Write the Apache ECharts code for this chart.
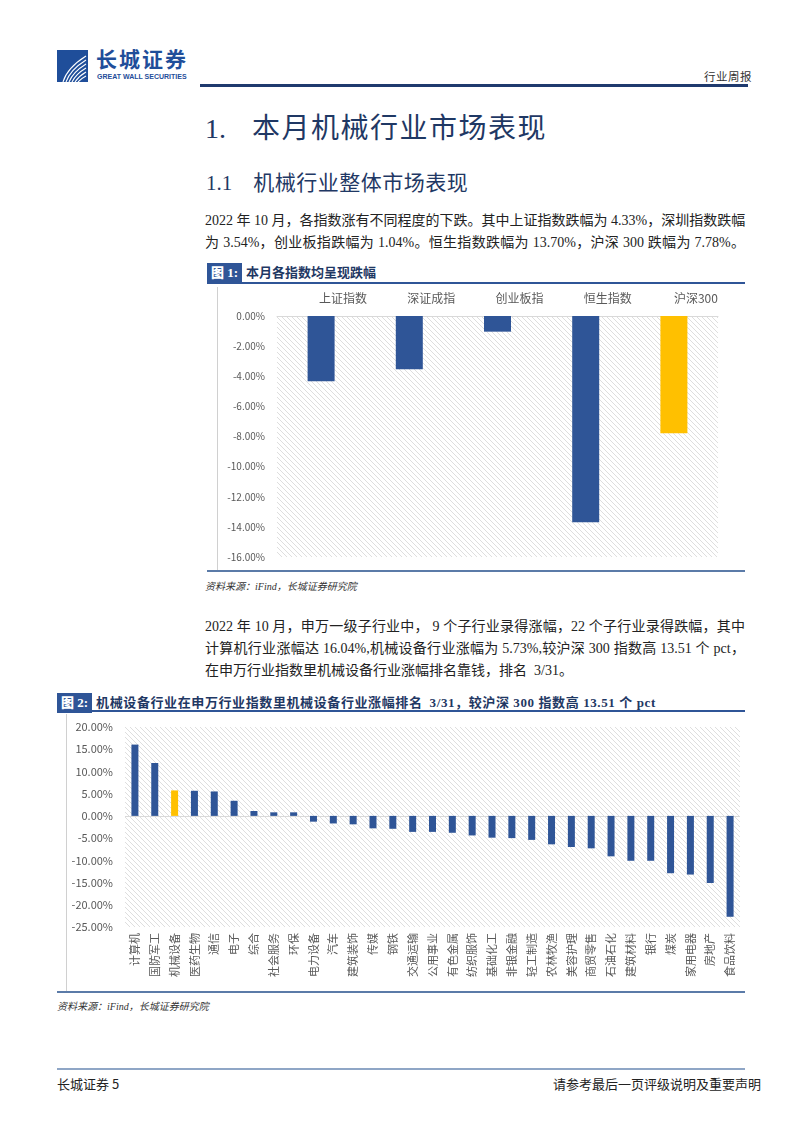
<!DOCTYPE html>
<html><head><meta charset="utf-8">
<script src="https://cdn.jsdelivr.net/npm/echarts@6/dist/echarts.min.js"></script>
<style>
html,body{margin:0;padding:0;background:#fff;}
body{width:802px;height:1133px;position:relative;overflow:hidden;font-family:"Liberation Serif","Noto Sans CJK SC",serif;color:#222;}
.a{position:absolute;white-space:nowrap;}
.p{position:absolute;left:205px;width:540px;height:22px;line-height:22px;font-size:14px;text-align:justify;text-align-last:justify;white-space:nowrap;}
.p.l{text-align-last:left;}
.hl{position:absolute;background:#2F5597;}
.figt{position:absolute;font-family:"Noto Sans CJK SC",sans-serif;font-weight:bold;font-size:13px;color:#1F3864;height:20px;line-height:20px;}
.figt b{display:inline-block;background:#2F5597;color:#fff;padding:0 4px;margin-right:4px;font-family:"Liberation Serif","Noto Sans CJK SC",serif;letter-spacing:0;}
.src{position:absolute;font-size:10px;font-style:italic;color:#333;font-family:"Liberation Serif","Noto Sans CJK SC",serif;}
</style></head>
<body>
<!-- header -->
<svg class="a" style="left:57px;top:50px" width="31" height="32" viewBox="0 0 31 32">
<rect width="31" height="32" fill="#1F4E9A"/>
<g fill="none" stroke="#fff" stroke-width="1.1">
<path d="M6 32 Q10 18 29 6"/><path d="M9 32 Q13 20 29 10"/><path d="M12 32 Q16 22 29 14"/><path d="M15 32 Q19 24 29 18"/><path d="M18 32 Q22 26 29 22"/><path d="M21 32 Q25 28 29 26"/>
</g></svg>
<div class="a" style="left:96px;top:44px;font-family:'Noto Sans CJK SC',sans-serif;font-weight:bold;font-size:21px;line-height:28px;color:#1F4E9A;letter-spacing:2px;">长城证券</div>
<div class="a" style="left:97px;top:73px;font-family:'Liberation Sans',sans-serif;font-weight:bold;font-size:7px;line-height:8px;color:#1F4E9A;">GREAT WALL SECURITIES</div>
<div class="a" style="left:704px;top:68px;font-size:11.5px;color:#333;font-family:'Noto Sans CJK SC',sans-serif;letter-spacing:0.5px;">行业周报</div>
<div class="hl" style="left:200px;top:84px;width:548px;height:3px;background:#1F3A6E;"></div>

<div class="a" style="left:205px;top:108px;font-size:28px;color:#1F3864;line-height:36px;"><span style="font-family:'Liberation Serif';">1.</span><span style="display:inline-block;width:26px"></span><span style="font-family:'Noto Sans CJK SC';letter-spacing:1.5px;">本月机械行业市场表现</span></div>
<div class="a" style="left:206px;top:168px;font-size:21px;color:#1F3864;line-height:26px;"><span style="font-family:'Liberation Serif';">1.1</span><span style="display:inline-block;width:21px"></span><span style="font-family:'Noto Sans CJK SC';letter-spacing:0.5px;">机械行业整体市场表现</span></div>

<div class="p" style="top:210px;">2022 年 10 月，各指数涨有不同程度的下跌。其中上证指数跌幅为 4.33%，深圳指数跌幅</div>
<div class="p" style="top:232px;">为 3.54%，创业板指跌幅为 1.04%。恒生指数跌幅为 13.70%，沪深 300 跌幅为 7.78%。</div>

<div class="figt" style="left:207px;top:262px;"><b>图 1:</b>本月各指数均呈现跌幅</div>
<div class="hl" style="left:207px;top:282px;width:538px;height:1.5px;"></div>
<div class="hl" style="left:217px;top:287px;width:1px;height:283px;background:#d0d0d0;"></div>
<div id="c1" class="a" style="left:200px;top:285px;width:550px;height:285px;"></div>
<div class="hl" style="left:207px;top:570px;width:538px;height:2px;background:#5B7BA8;"></div>
<div class="src" style="left:205px;top:578px;">资料来源：iFind，长城证券研究院</div>

<div class="p" style="top:616px;">2022 年 10 月，申万一级子行业中， 9 个子行业录得涨幅，22 个子行业录得跌幅，其中</div>
<div class="p" style="top:638px;">计算机行业涨幅达 16.04%,机械设备行业涨幅为 5.73%,较沪深 300 指数高 13.51 个 pct，</div>
<div class="p l" style="top:660px;">在申万行业指数里机械设备行业涨幅排名靠钱，排名&nbsp; 3/31。</div>

<div class="figt" style="left:57px;top:692px;letter-spacing:0.6px;"><b>图 2:</b>机械设备行业在申万行业指数里机械设备行业涨幅排名&nbsp; <span style="font-family:'Liberation Serif','Noto Sans CJK SC';">3/31，较沪深 300 指数高 13.51 个 pct</span></div>
<div class="hl" style="left:57px;top:710px;width:688px;height:1.5px;"></div>
<div class="hl" style="left:66px;top:714px;width:1px;height:277px;background:#d0d0d0;"></div>
<div id="c2" class="a" style="left:40px;top:712px;width:720px;height:280px;"></div>
<div class="hl" style="left:57px;top:991px;width:688px;height:2px;background:#5B7BA8;"></div>
<div class="src" style="left:57px;top:998px;">资料来源：iFind，长城证券研究院</div>

<!-- footer -->
<div class="hl" style="left:57px;top:1068px;width:688px;height:1.5px;background:#8FA6C6;"></div>
<div class="a" style="left:57px;top:1074px;font-size:13px;font-family:'Noto Sans CJK SC',sans-serif;color:#222;">长城证券 5</div>
<div class="a" style="left:553px;top:1074px;font-size:13px;font-family:'Noto Sans CJK SC',sans-serif;color:#222;">请参考最后一页评级说明及重要声明</div>

<script>
// ---- data ----
const idxCats = ['上证指数','深证成指','创业板指','恒生指数','沪深300'];
const idxVals = [-4.33, -3.54, -1.04, -13.70, -7.78];
const idxHighlight = 4;
const idxAxis = {min: -16, max: 0, interval: 2};

const indCats = ['计算机','国防军工','机械设备','医药生物','通信','电子','综合','社会服务','环保','电力设备','汽车','建筑装饰','传媒','钢铁','交通运输','公用事业','有色金属','纺织服饰','基础化工','非银金融','轻工制造','农林牧渔','美容护理','商贸零售','石油石化','建筑材料','银行','煤炭','家用电器','房地产','食品饮料'];
const indVals = [16.04, 11.9, 5.73, 5.65, 5.5, 3.4, 1.1, 0.8, 0.8, -1.3, -1.7, -1.9, -2.8, -2.9, -3.6, -3.6, -3.8, -4.4, -4.9, -5.0, -5.4, -6.4, -7.0, -7.3, -9.1, -10.1, -10.1, -12.9, -13.2, -15.1, -22.7];
const indHighlight = 2;
const indAxis = {min: -25, max: 20, interval: 5};

const BLUE = '#2F5597', GOLD = '#FFC000';
const FONT = '"Noto Sans CJK SC", sans-serif';

function hatch(){
  const s = 5, c = document.createElement('canvas');
  c.width = s; c.height = s;
  const g = c.getContext('2d');
  g.fillStyle = '#fff'; g.fillRect(0,0,s,s);
  g.strokeStyle = '#dadada'; g.lineWidth = 0.9;
  g.beginPath();
  g.moveTo(0,0); g.lineTo(s,s);
  g.moveTo(-s,0); g.lineTo(s, 2*s);
  g.moveTo(0,-s); g.lineTo(2*s, s);
  g.stroke();
  return c;
}
const pat = {image: hatch(), repeat: 'repeat'};
const pctFmt = v => v.toFixed(2) + '%';

const c1 = echarts.init(document.getElementById('c1'), null, {renderer: 'canvas'});
c1.setOption({
  animation: false,
  grid: {left: 77, top: 31, width: 441, height: 241, show: true, backgroundColor: pat, borderWidth: 0},
  xAxis: {type: 'category', data: idxCats, position: 'top',
    axisLine: {show: true, lineStyle: {color: '#d9d9d9'}}, axisTick: {show: false},
    axisLabel: {color: '#595959', fontSize: 12, fontFamily: FONT, margin: 12, padding: [0, 0, 0, 44]}},
  yAxis: {type: 'value', min: idxAxis.min, max: idxAxis.max, interval: idxAxis.interval,
    axisLine: {show: false}, axisTick: {show: false}, splitLine: {show: false},
    axisLabel: {color: '#595959', fontSize: 10, fontFamily: FONT, margin: 12, formatter: pctFmt}},
  series: [{type: 'bar', barWidth: 27,
    data: idxVals.map((v, i) => ({value: v, itemStyle: {color: i === idxHighlight ? GOLD : BLUE}}))}]
});

const c2 = echarts.init(document.getElementById('c2'), null, {renderer: 'canvas'});
c2.setOption({
  animation: false,
  grid: {left: 85, top: 15, width: 615, height: 200, show: true, backgroundColor: pat, borderWidth: 0},
  xAxis: {type: 'category', data: indCats, position: 'bottom',
    axisLine: {show: false, onZero: false}, axisTick: {show: false},
    axisLabel: {color: '#595959', fontSize: 11, fontFamily: FONT, margin: 6, rotate: 90, interval: 0}},
  yAxis: {type: 'value', min: indAxis.min, max: indAxis.max, interval: indAxis.interval,
    axisLine: {show: false}, axisTick: {show: false}, splitLine: {show: false},
    axisLabel: {color: '#595959', fontSize: 11, fontFamily: FONT, margin: 12, formatter: pctFmt}},
  series: [{type: 'bar', barWidth: 7, z: 3,
    data: indVals.map((v, i) => ({value: v, itemStyle: {color: i === indHighlight ? GOLD : BLUE}})),
    markLine: {silent: true, symbol: 'none', z: 1, label: {show: false},
      lineStyle: {color: '#d9d9d9', type: 'solid', width: 1}, data: [{yAxis: 0}]}}]
});
</script>
</body></html>
